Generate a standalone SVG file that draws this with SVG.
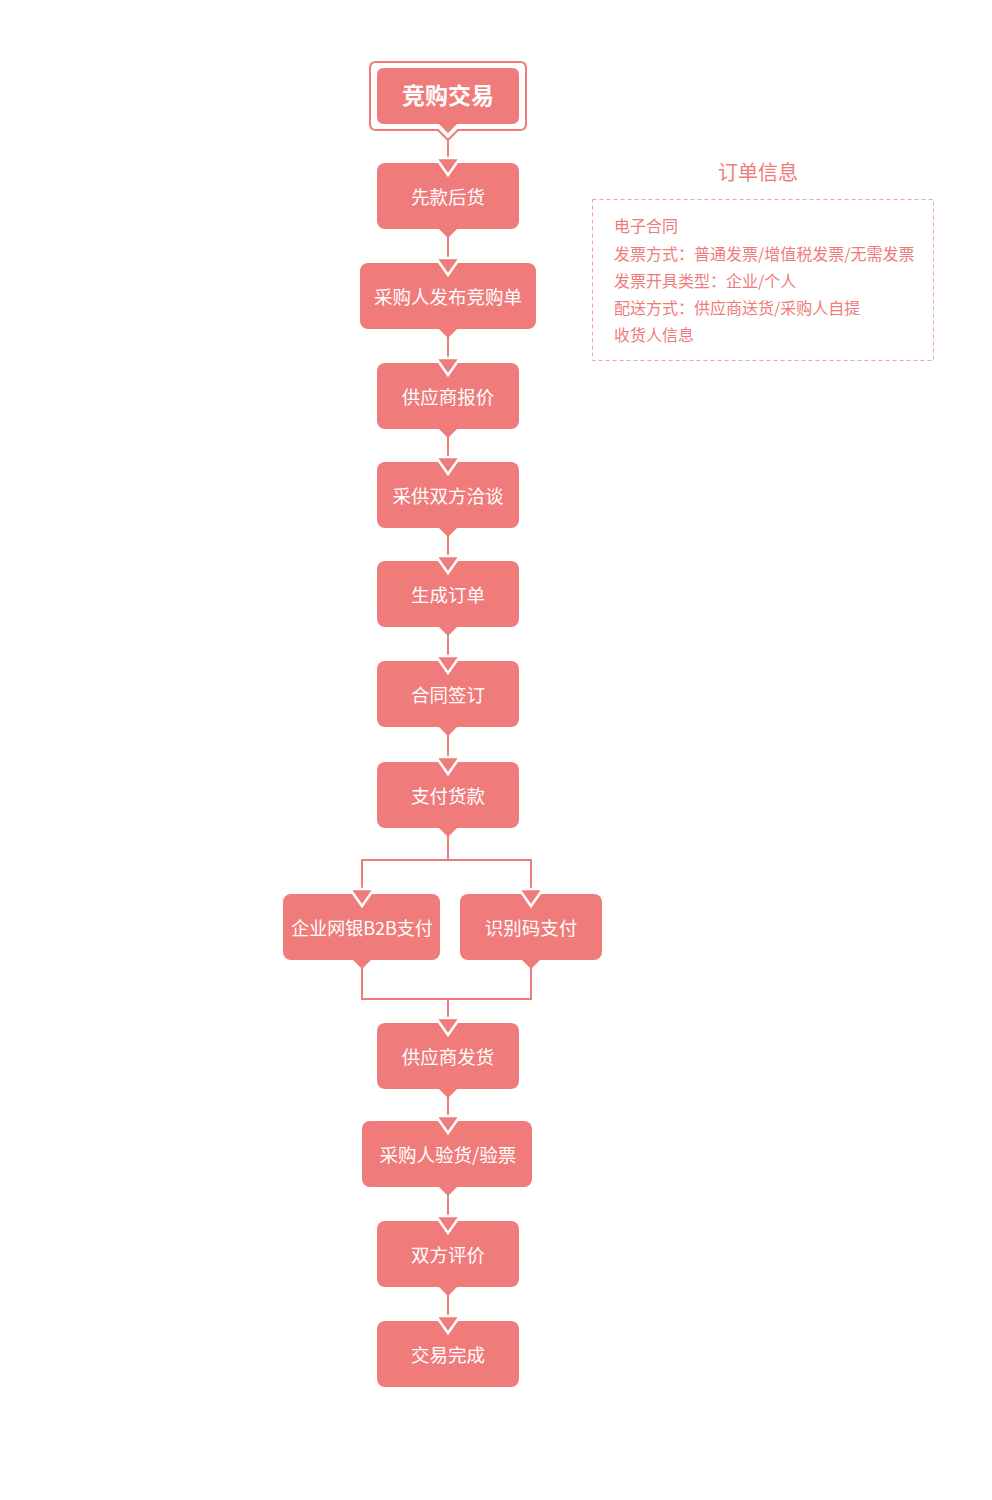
<svg xmlns="http://www.w3.org/2000/svg" width="992" height="1500" viewBox="0 0 992 1500">
<style>
.n{fill:#EF7B7B}
.t{fill:#FFFFFF;font-family:"Noto Sans CJK SC","Noto Sans",sans-serif;font-size:18.5px;text-anchor:middle}
.ln{stroke:#EF7B7B;stroke-width:2;fill:none}
.ah{fill:#EF7B7B;stroke:#FFFFFF;stroke-width:2.5;stroke-linejoin:miter}
.it{fill:#EF7B7B;font-family:"Noto Sans CJK SC","Noto Sans",sans-serif;font-size:16px}
</style>
<rect width="992" height="1500" fill="#FFFFFF"/>
<g id="node-start">
<path d="M376,62 H520 Q526,62 526,68 V124 Q526,130 520,130 H458 L448,140 L438,130 H376 Q370,130 370,124 V68 Q370,62 376,62 Z" fill="none" stroke="#EF7B7B" stroke-width="2"/>
<path class="n" d="M384,68 H512 Q519,68 519,75 V117 Q519,124 512,124 H457 L448,133 L439,124 H384 Q377,124 377,117 V75 Q377,68 384,68 Z"/>
<text x="448" y="104" class="t" style="font-size:23px;font-weight:bold">竞购交易</text>
</g>
<g id="node-1"><rect class="n" x="377" y="163" width="142" height="66" rx="8"/><polygon class="n" points="438,228 458,228 448,238"/><text class="t" x="448" y="204">先款后货</text></g>
<g id="node-2"><rect class="n" x="360" y="263" width="176" height="66" rx="8"/><polygon class="n" points="438,328 458,328 448,338"/><text class="t" x="448" y="304">采购人发布竞购单</text></g>
<g id="node-3"><rect class="n" x="377" y="363" width="142" height="66" rx="8"/><polygon class="n" points="438,428 458,428 448,438"/><text class="t" x="448" y="404">供应商报价</text></g>
<g id="node-4"><rect class="n" x="377" y="462" width="142" height="66" rx="8"/><polygon class="n" points="438,527 458,527 448,537"/><text class="t" x="448" y="503">采供双方洽谈</text></g>
<g id="node-5"><rect class="n" x="377" y="561" width="142" height="66" rx="8"/><polygon class="n" points="438,626 458,626 448,636"/><text class="t" x="448" y="602">生成订单</text></g>
<g id="node-6"><rect class="n" x="377" y="661" width="142" height="66" rx="8"/><polygon class="n" points="438,726 458,726 448,736"/><text class="t" x="448" y="702">合同签订</text></g>
<g id="node-7"><rect class="n" x="377" y="762" width="142" height="66" rx="8"/><polygon class="n" points="438,827 458,827 448,837"/><text class="t" x="448" y="803">支付货款</text></g>
<g id="node-8"><rect class="n" x="283" y="894" width="157" height="66" rx="8"/><polygon class="n" points="352,959 372,959 362,969"/><text class="t" x="362" y="935" style="font-size:18px">企业网银B2B支付</text></g>
<g id="node-9"><rect class="n" x="460" y="894" width="142" height="66" rx="8"/><polygon class="n" points="521,959 541,959 531,969"/><text class="t" x="531" y="935">识别码支付</text></g>
<g id="node-10"><rect class="n" x="377" y="1023" width="142" height="66" rx="8"/><polygon class="n" points="438,1088 458,1088 448,1098"/><text class="t" x="448" y="1064">供应商发货</text></g>
<g id="node-11"><rect class="n" x="362" y="1121" width="170" height="66" rx="8"/><polygon class="n" points="438,1186 458,1186 448,1196"/><text class="t" x="448" y="1162">采购人验货/验票</text></g>
<g id="node-12"><rect class="n" x="377" y="1221" width="142" height="66" rx="8"/><polygon class="n" points="438,1286 458,1286 448,1296"/><text class="t" x="448" y="1262">双方评价</text></g>
<g id="node-13"><rect class="n" x="377" y="1321" width="142" height="66" rx="8"/><text class="t" x="448" y="1362">交易完成</text></g>
<g id="connectors">
<path class="ln" d="M448,138 V158 M448,236 V258 M448,336 V358 M448,436 V457 M448,535 V556 M448,634 V656 M448,734 V757 M448,836 V860 M362,860 H532 M362,859 V889 M531,859 V889 M362,968 V999 M531,968 V999 M361,999 H532 M448,999 V1018 M448,1096 V1116 M448,1194 V1216 M448,1294 V1316"/>
<polygon class="ah" points="436,158 460,158 448,175"/>
<polygon class="ah" points="436,258 460,258 448,275"/>
<polygon class="ah" points="436,358 460,358 448,375"/>
<polygon class="ah" points="436,457 460,457 448,474"/>
<polygon class="ah" points="436,556 460,556 448,573"/>
<polygon class="ah" points="436,656 460,656 448,673"/>
<polygon class="ah" points="436,757 460,757 448,774"/>
<polygon class="ah" points="350,889 374,889 362,906"/>
<polygon class="ah" points="519,889 543,889 531,906"/>
<polygon class="ah" points="436,1018 460,1018 448,1035"/>
<polygon class="ah" points="436,1116 460,1116 448,1133"/>
<polygon class="ah" points="436,1216 460,1216 448,1233"/>
<polygon class="ah" points="436,1316 460,1316 448,1333"/>
</g>
<g id="order-info">
<text x="758" y="180" text-anchor="middle" style="fill:#EF7B7B;font-family:'Noto Sans CJK SC','Noto Sans',sans-serif;font-size:20px">订单信息</text>
<rect x="592.5" y="199.5" width="341" height="161" fill="none" stroke="#F2A3A3" stroke-width="1" stroke-dasharray="4,3"/>
<text class="it" x="614" y="232">电子合同</text>
<text class="it" x="614" y="260">发票方式：普通发票/增值税发票/无需发票</text>
<text class="it" x="614" y="287">发票开具类型：企业/个人</text>
<text class="it" x="614" y="314">配送方式：供应商送货/采购人自提</text>
<text class="it" x="614" y="341">收货人信息</text>
</g>
</svg>
